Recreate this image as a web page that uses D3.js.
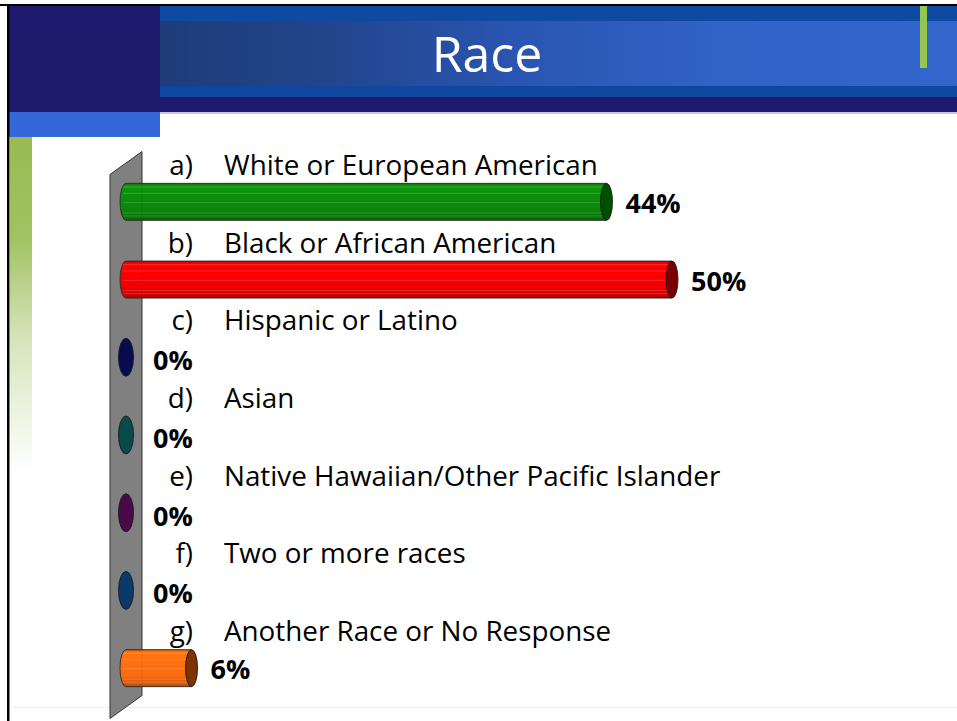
<!DOCTYPE html>
<html><head><meta charset="utf-8">
<script src="https://cdn.jsdelivr.net/npm/d3@7"></script>
<style>html,body{margin:0;padding:0;background:#fff;overflow:hidden}</style>
</head><body><svg id="c" width="957" height="721"></svg>
<script>
// ---- data ----
const title = "Race";
const letters = ["a)", "b)", "c)", "d)", "e)", "f)", "g)"];
const categories = [
  "White or European American",
  "Black or African American",
  "Hispanic or Latino",
  "Asian",
  "Native Hawaiian/Other Pacific Islander",
  "Two or more races",
  "Another Race or No Response"
];
const values = [44, 50, 0, 0, 0, 0, 6];

// ---- styles ----
const bodyColors = ["#0a870a", "#f00000", "#000080", "#008080", "#800080", "#0060b0", "#fa6a10"];
const endColors  = ["#004f00", "#7a0000", "#0a0a50", "#0a4a4a", "#4a0a4a", "#0a3a6a", "#7f3300"];
const FONT = "'Open Sans', 'DejaVu Sans', sans-serif";

const svg = d3.select("#c");
const W = 957, H = 721;
const defs = svg.append("defs");

// background
svg.append("rect").attr("width", W).attr("height", H).attr("fill", "#ffffff");

// ---- header ----
const hg = defs.append("linearGradient").attr("id", "hdr").attr("x1", 0).attr("x2", 1).attr("y1", 0).attr("y2", 0);
[[0, "#1d3c78"], [0.2, "#22448a"], [0.45, "#2a55b2"], [0.7, "#3063c6"], [1, "#3366cc"]]
  .forEach(([o, c]) => hg.append("stop").attr("offset", o).attr("stop-color", c));

svg.append("rect").attr("x", 160).attr("y", 6).attr("width", W - 160).attr("height", 15).attr("fill", "#0e4aa2");
svg.append("rect").attr("x", 160).attr("y", 21).attr("width", W - 160).attr("height", 65).attr("fill", "url(#hdr)");
svg.append("rect").attr("x", 160).attr("y", 86).attr("width", W - 160).attr("height", 11).attr("fill", "#0d47a0");
svg.append("rect").attr("x", 160).attr("y", 97).attr("width", W - 160).attr("height", 15).attr("fill", "#1f1a70");
svg.append("rect").attr("x", 160).attr("y", 112).attr("width", W - 160).attr("height", 2).attr("fill", "#c8c8e0");
// left dark block + light block
svg.append("rect").attr("x", 7).attr("y", 6).attr("width", 153).attr("height", 106).attr("fill", "#1e1a6e");
svg.append("rect").attr("x", 7).attr("y", 112).attr("width", 153).attr("height", 25).attr("fill", "#3467da");
// green accent in header
svg.append("rect").attr("x", 920).attr("y", 6).attr("width", 7).attr("height", 62).attr("fill", "#97c553");

// left green strip fading down
const gs = defs.append("linearGradient").attr("id", "gstrip").attr("x1", 0).attr("x2", 0).attr("y1", 0).attr("y2", 1);
[[0, 1], [0.3, 0.9], [0.6, 0.4], [1, 0]]
  .forEach(([o, a]) => gs.append("stop").attr("offset", o).attr("stop-color", "#98bb52").attr("stop-opacity", a));
svg.append("rect").attr("x", 10).attr("y", 137).attr("width", 22).attr("height", 335).attr("fill", "url(#gstrip)");

// borders
svg.append("rect").attr("x", 0).attr("y", 4).attr("width", W).attr("height", 2).attr("fill", "#000");
svg.append("rect").attr("x", 7).attr("y", 4).attr("width", 2.5).attr("height", H - 4).attr("fill", "#000");
// faint frame lines
svg.append("line").attr("x1", 12).attr("x2", W).attr("y1", 707.5).attr("y2", 707.5).attr("stroke", "#eeeeee");

// title
svg.append("text").attr("x", 487).attr("y", 72).attr("text-anchor", "middle")
  .attr("font-family", FONT).attr("font-size", 50).attr("fill", "#ffffff").text(title);

// ---- scales ----
const y = d3.scaleBand().domain(categories).range([163, 707]).paddingInner(0).paddingOuter(0);
const x = d3.scaleLinear().domain([0, 50]).range([126, 672]);
const cy = c => y(c) + y.bandwidth() / 2;
const RY = 18.5, RX = 6;

// ---- wall ----
const x0 = x(0);
const r0 = y.range()[0], r1 = y.range()[1];
svg.append("path")
  .attr("d", `M${x0 - 16},${r0 + 11.5} L${x0 + 16},${r0 - 11.5} L${x0 + 16},${r1 - 11.5} L${x0 - 16},${r1 + 11.5} Z`)
  .attr("fill", "#808080").attr("stroke", "#333").attr("stroke-width", 1);

// ---- gradients for cylinders ----
bodyColors.forEach((c, i) => {
  const base = d3.color(c);
  const g = defs.append("linearGradient").attr("id", "cyl" + i).attr("x1", 0).attr("x2", 0).attr("y1", 0).attr("y2", 1);
  [[0, base.darker(0.8)], [0.06, base.brighter(0.35)], [0.35, base.brighter(0.15)], [0.7, base], [0.93, base.darker(0.45)], [1, base.darker(1.1)]]
    .forEach(([o, col]) => g.append("stop").attr("offset", o).attr("stop-color", col.formatHex()));
});

const stripes = [0.1, 0.27, 0.52, 0.8, 0.88];

const data = categories.map((c, i) => ({ c, i, v: values[i], letter: letters[i] }));

// ---- bars ----
const gBars = svg.append("g");
data.forEach(d => {
  const yc = cy(d.c);
  if (d.v > 0) {
    const xv = x(d.v);
    const g = gBars.append("g");
    g.append("path")
      .attr("d", `M${x0},${yc - RY} L${xv},${yc - RY} L${xv},${yc + RY} L${x0},${yc + RY} A${RX},${RY} 0 0 1 ${x0},${yc - RY} Z`)
      .attr("fill", `url(#cyl${d.i})`).attr("stroke", "#2a2a2a").attr("stroke-width", 0.9);
    stripes.forEach(f => {
      g.append("line").attr("x1", x0 - 3).attr("x2", xv).attr("y1", yc - RY + 2 * RY * f).attr("y2", yc - RY + 2 * RY * f)
        .attr("stroke", "#ffffff").attr("stroke-opacity", 0.22).attr("stroke-width", 0.8);
    });
    g.append("line").attr("x1", x0 + 16).attr("x2", x0 + 16).attr("y1", yc - RY + 1).attr("y2", yc + RY - 1)
      .attr("stroke", "#000").attr("stroke-opacity", 0.08);
    g.append("ellipse").attr("cx", xv).attr("cy", yc).attr("rx", RX).attr("ry", RY)
      .attr("fill", endColors[d.i]).attr("stroke", "#1a1a1a").attr("stroke-width", 0.9);
  } else {
    gBars.append("ellipse").attr("cx", x0).attr("cy", yc).attr("rx", 7.5).attr("ry", 19)
      .attr("fill", endColors[d.i]).attr("stroke", "#1a1a1a").attr("stroke-width", 0.9);
  }
});

// ---- category labels ----
const gLab = svg.append("g").attr("font-family", FONT).attr("font-size", 27.8).attr("fill", "#000");
data.forEach(d => {
  const yb = cy(d.c) - 27;
  gLab.append("text").attr("x", 193).attr("y", yb).attr("text-anchor", "end").text(d.letter);
  gLab.append("text").attr("x", 224).attr("y", yb).text(d.c);
});

// ---- value labels ----
const fmt = v => d3.format(".0f")(v) + "%";
const gVal = svg.append("g").attr("font-family", FONT).attr("font-size", 27).attr("font-weight", "bold").attr("fill", "#000");
data.forEach(d => {
  gVal.append("text").attr("x", x(d.v) + (d.v > 0 ? 19 : 27)).attr("y", cy(d.c) + (d.v > 0 ? 11 : 13)).text(fmt(d.v));
});
</script>
</body></html>
